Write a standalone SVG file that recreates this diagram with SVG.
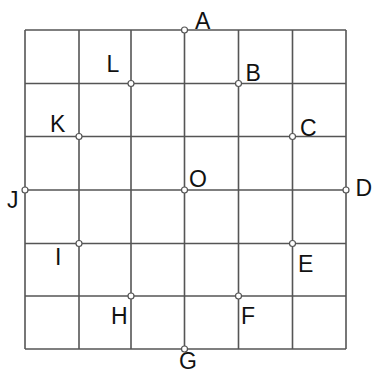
<svg xmlns="http://www.w3.org/2000/svg" width="372" height="373" viewBox="0 0 372 373">
<style>
.grid line{stroke:#555;stroke-width:1.6}
.pt circle{fill:#fff;stroke:#555;stroke-width:1.2}
text{font-family:"Liberation Sans",Arial,sans-serif;font-size:23px;fill:#111}
</style>
<rect width="372" height="373" fill="#fff"/>
<g id="connectors" class="grid">
<line x1="25" y1="30" x2="25" y2="349"/>
<line x1="79" y1="30" x2="79" y2="349"/>
<line x1="131" y1="30" x2="131" y2="349"/>
<line x1="184.5" y1="30" x2="184.5" y2="349"/>
<line x1="238.5" y1="30" x2="238.5" y2="349"/>
<line x1="292.5" y1="30" x2="292.5" y2="349"/>
<line x1="346" y1="30" x2="346" y2="349"/>
<line x1="25" y1="30" x2="346" y2="30"/>
<line x1="25" y1="83.5" x2="346" y2="83.5"/>
<line x1="25" y1="136.5" x2="346" y2="136.5"/>
<line x1="25" y1="190" x2="346" y2="190"/>
<line x1="25" y1="243.5" x2="346" y2="243.5"/>
<line x1="25" y1="296" x2="346" y2="296"/>
<line x1="25" y1="349" x2="346" y2="349"/>
</g>
<g id="A" class="pt"><circle cx="184.5" cy="30" r="3"/><text x="195" y="29">A</text></g>
<g id="B" class="pt"><circle cx="238.5" cy="83.5" r="3"/><text x="245.5" y="81">B</text></g>
<g id="C" class="pt"><circle cx="292.5" cy="136.5" r="3"/><text x="300" y="136">C</text></g>
<g id="D" class="pt"><circle cx="346" cy="190" r="3"/><text x="355.5" y="196">D</text></g>
<g id="E" class="pt"><circle cx="292.5" cy="243.5" r="3"/><text x="298" y="272">E</text></g>
<g id="F" class="pt"><circle cx="238.5" cy="296" r="3"/><text x="241" y="324">F</text></g>
<g id="G" class="pt"><circle cx="184.5" cy="349" r="3"/><text x="179" y="369">G</text></g>
<g id="H" class="pt"><circle cx="131" cy="296" r="3"/><text x="111" y="324">H</text></g>
<g id="I" class="pt"><circle cx="79" cy="243.5" r="3"/><text x="55" y="265">I</text></g>
<g id="J" class="pt"><circle cx="25" cy="190" r="3"/><text x="7" y="208">J</text></g>
<g id="K" class="pt"><circle cx="79" cy="136.5" r="3"/><text x="50" y="132">K</text></g>
<g id="L" class="pt"><circle cx="131" cy="83.5" r="3"/><text x="106.5" y="72">L</text></g>
<g id="O" class="pt"><circle cx="184.5" cy="190" r="3"/><text x="189" y="187">O</text></g>
</svg>
